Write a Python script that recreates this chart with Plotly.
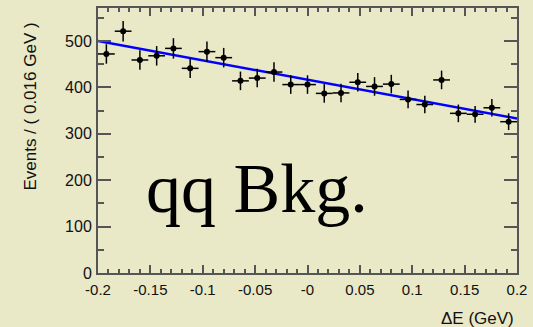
import plotly.graph_objects as go

# Data
bin_centers = [-0.192, -0.176, -0.160, -0.144, -0.128, -0.112, -0.096, -0.080, -0.064, -0.048,
               -0.032, -0.016, 0.000, 0.016, 0.032, 0.048, 0.064, 0.080, 0.096, 0.112,
               0.128, 0.144, 0.160, 0.176, 0.192]
events = [472, 521, 459, 468, 484, 441, 477, 464, 414, 420,
          433, 406, 406, 387, 388, 411, 402, 407, 374, 363,
          416, 344, 342, 356, 326]
event_err = [21, 22, 21, 21, 22, 21, 22, 21, 20, 20,
             21, 20, 20, 20, 20, 20, 20, 20, 19, 19,
             20, 19, 18, 19, 18]
bin_half_width = [0.008] * 25
fit_x = [-0.2, 0.2]
fit_y = [500, 333]

x_tickvals = [-0.2, -0.15, -0.1, -0.05, 0.0, 0.05, 0.1, 0.15, 0.2]
x_ticktext = ["-0.2", "-0.15", "-0.1", "-0.05", "-0", "0.05", "0.1", "0.15", "0.2"]
y_tickvals = [0, 100, 200, 300, 400, 500]
y_ticktext = ["0", "100", "200", "300", "400", "500"]

bg = "#e9e8c7"
axis_col = "#555555"

fig = go.Figure()
fig.add_trace(go.Scatter(x=fit_x, y=fit_y, mode="lines",
                         line=dict(color="#0000ff", width=2.5), hoverinfo="skip"))
fig.add_trace(go.Scatter(
    x=bin_centers, y=events, mode="markers",
    marker=dict(color="black", size=6),
    error_y=dict(type="data", array=event_err, color="black", thickness=1.5, width=0),
    error_x=dict(type="data", array=bin_half_width, color="black", thickness=1.5, width=0),
))

fig.add_annotation(x=-0.048, y=182, xref="x", yref="y", text="qq Bkg.", showarrow=False,
                   font=dict(family="Liberation Serif", size=70, color="black"))

# Axis titles placed as in the reference (ROOT style: aligned to axis end)
pw, ph = 533 - 98 - 14, 327 - 6 - 54
fig.add_annotation(x=(518 - 98) / pw, y=(273 - 319) / ph, xref="paper", yref="paper",
                   xanchor="right", yanchor="middle", text="ΔE (GeV)", showarrow=False,
                   font=dict(size=17, color="#111111"))
fig.add_annotation(x=(30 - 98) / pw, y=(273 - 105) / ph, xref="paper", yref="paper",
                   xanchor="center", yanchor="middle", text="Events / ( 0.016 GeV )",
                   textangle=-90, showarrow=False, font=dict(size=17, color="#111111"))

fig.update_layout(
    width=533, height=327,
    margin=dict(l=98, r=14, t=6, b=54),
    paper_bgcolor=bg, plot_bgcolor=bg,
    showlegend=False,
    font=dict(family="Liberation Sans", size=14, color="#111111"),
)

fig.update_xaxes(
    range=[-0.2, 0.2], tickvals=x_tickvals, ticktext=x_ticktext,
    ticks="inside", ticklen=8, tickwidth=1.5, tickcolor=axis_col,
    minor=dict(dtick=0.01, ticks="inside", ticklen=4, tickcolor=axis_col),
    showline=True, linecolor=axis_col, linewidth=2, mirror="ticks",
    showgrid=False, zeroline=False,
    tickfont=dict(size=15), ticklabelstandoff=2,
)
fig.update_yaxes(
    range=[0, 571], tickvals=y_tickvals, ticktext=y_ticktext,
    ticks="inside", ticklen=13, tickwidth=1.5, tickcolor=axis_col,
    minor=dict(dtick=50, ticks="inside", ticklen=6, tickcolor=axis_col),
    showline=True, linecolor=axis_col, linewidth=2, mirror="ticks",
    showgrid=False, zeroline=False,
    tickfont=dict(size=16), ticklabelstandoff=1,
)
fig.write_html("out.html")
